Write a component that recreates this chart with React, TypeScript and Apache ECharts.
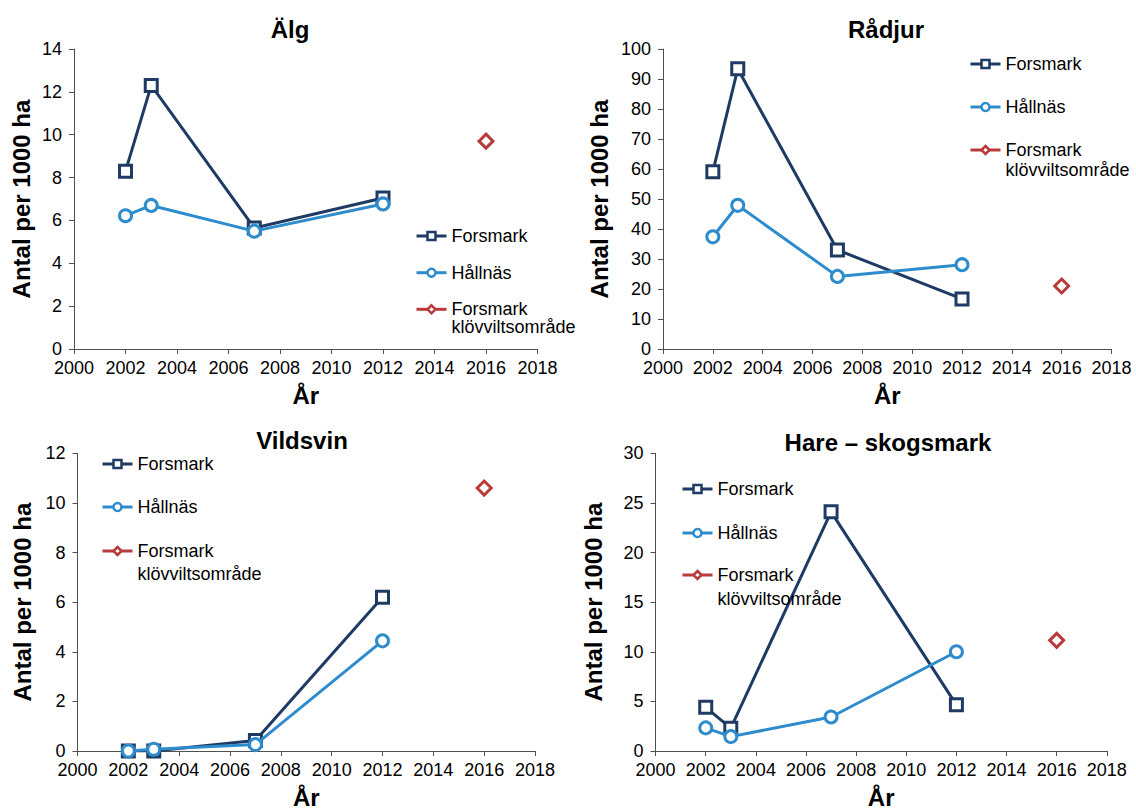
import React, { useEffect, useRef } from "react";
import * as echarts from "echarts";

const years = [2002, 2003, 2007, 2012];
const klovYear = 2016;

const algForsmark = [8.3, 12.3, 5.65, 7.05];
const algHallnas = [6.22, 6.7, 5.5, 6.77];
const algKlov = 9.7;

const radjurForsmark = [59.1, 93.4, 33, 16.7];
const radjurHallnas = [37.4, 47.9, 24.2, 28.1];
const radjurKlov = 21;

const vildsvinForsmark = [0, 0, 0.42, 6.2];
const vildsvinHallnas = [0, 0.07, 0.26, 4.44];
const vildsvinKlov = 10.6;

const hareForsmark = [4.4, 2.3, 24.1, 4.65];
const hareHallnas = [2.33, 1.45, 3.43, 10.0];
const hareKlov = 11.15;

const titles = ["Älg", "Rådjur", "Vildsvin", "Hare – skogsmark"];
const yMax = [14, 100, 12, 30];
const yStep = [2, 10, 2, 5];
const xTickMin = 2000;
const xTickMax = 2018;
const xTickStep = 2;

const NAME_F = "Forsmark";
const NAME_H = "Hållnäs";
const NAME_K = "Forsmark klövviltsområde";

const FONT = "'Liberation Sans', Arial, Helvetica, sans-serif";
const NAVY = "#1F3B64";
const BLUE = "#2E8BCC";
const RED = "#B83A3A";
const AXIS = "#505050";

const grids = [
  { left: 74, top: 49, width: 463.5, height: 300 },
  { left: 663, top: 49, width: 448.5, height: 300 },
  { left: 77.5, top: 453.3, width: 457.5, height: 300 },
  { left: 655.6, top: 453.3, width: 451.2, height: 300 },
];
const yNameGap = [41, 52, 43, 50];
const titlePos = [
  { x: 290, y: 17 },
  { x: 886, y: 17 },
  { x: 302, y: 428 },
  { x: 888, y: 430 },
];
const legendPos = [
  { x: 415, y1: 236, gap: 18.7, y3: 309.3, lh: 18 },
  { x: 969, y1: 64, gap: 25, y3: 150, lh: 20 },
  { x: 101, y1: 464, gap: 25, y3: 551, lh: 23 },
  { x: 681, y1: 489, gap: 26, y3: 575, lh: 24 },
];

const forsmarkSets = [algForsmark, radjurForsmark, vildsvinForsmark, hareForsmark];
const hallnasSets = [algHallnas, radjurHallnas, vildsvinHallnas, hareHallnas];
const klovSets = [algKlov, radjurKlov, vildsvinKlov, hareKlov];

export default function App() {
  const ref = useRef<HTMLDivElement>(null);
  useEffect(() => {
    if (!ref.current) return;
    const chart = echarts.init(ref.current, null, { renderer: "svg" });

    const xAxis: any[] = [];
    const yAxis: any[] = [];
    const series: any[] = [];
    const legend: any[] = [];
    const title: any[] = [];

    for (let i = 0; i < 4; i++) {
      xAxis.push({
        gridIndex: i,
        type: "value",
        min: xTickMin,
        max: xTickMax,
        interval: xTickStep,
        name: "År",
        nameLocation: "middle",
        nameGap: 34,
        nameTextStyle: { fontSize: 24, fontWeight: "bold", color: "#000", fontFamily: FONT },
        axisLine: { show: true, lineStyle: { color: AXIS, width: 1 } },
        axisTick: { show: true, inside: false, length: 5, lineStyle: { color: AXIS } },
        axisLabel: {
          fontSize: 18,
          color: "#000",
          fontFamily: FONT,
          margin: 10,
          formatter: (v: number) => String(v),
        },
        splitLine: { show: false },
      });
      yAxis.push({
        gridIndex: i,
        type: "value",
        min: 0,
        max: yMax[i],
        interval: yStep[i],
        name: "Antal per 1000 ha",
        nameLocation: "middle",
        nameRotate: 90,
        nameGap: yNameGap[i],
        nameTextStyle: { fontSize: 24, fontWeight: "bold", color: "#000", fontFamily: FONT },
        axisLine: { show: true, lineStyle: { color: AXIS, width: 1 } },
        axisTick: { show: true, inside: false, length: 5, lineStyle: { color: AXIS } },
        axisLabel: { fontSize: 18, color: "#000", fontFamily: FONT, margin: 12 },
        splitLine: { show: false },
      });
      series.push({
        name: NAME_F,
        type: "line",
        xAxisIndex: i,
        yAxisIndex: i,
        data: years.map((y, k) => [y, forsmarkSets[i][k]]),
        symbol: "rect",
        symbolSize: 12,
        showAllSymbol: true,
        lineStyle: { color: NAVY, width: 3 },
        itemStyle: { color: "#fff", borderColor: NAVY, borderWidth: 3 },
        z: 2,
      });
      series.push({
        name: NAME_H,
        type: "line",
        xAxisIndex: i,
        yAxisIndex: i,
        data: years.map((y, k) => [y, hallnasSets[i][k]]),
        symbol: "circle",
        symbolSize: 12,
        showAllSymbol: true,
        lineStyle: { color: BLUE, width: 3 },
        itemStyle: { color: "#fff", borderColor: BLUE, borderWidth: 3 },
        z: 3,
      });
      series.push({
        name: NAME_K,
        type: "line",
        xAxisIndex: i,
        yAxisIndex: i,
        data: [[klovYear, klovSets[i]]],
        symbol: "diamond",
        symbolSize: 14,
        lineStyle: { color: RED, width: 3 },
        itemStyle: { color: "#fff", borderColor: RED, borderWidth: 3 },
        z: 4,
      });

      const lp = legendPos[i];
      const textStyle = { fontSize: 18, color: "#000", fontFamily: FONT, lineHeight: 18 };
      const common = {
        orient: "vertical",
        left: lp.x,
        padding: 0,
        itemWidth: 30,
        itemHeight: 10,
        selectedMode: false,
        lineStyle: { width: 3 },
        itemStyle: { borderWidth: 2.5 },
      };
      legend.push({
        ...common,
        top: lp.y1 - 9,
        itemGap: lp.gap,
        data: [NAME_F, NAME_H],
        textStyle,
      });
      legend.push({
        ...common,
        top: lp.y3 - 1.5 * lp.lh,
        data: [NAME_K],
        formatter: () => "\nForsmark\nklövviltsområde",
        textStyle: { ...textStyle, lineHeight: lp.lh },
      });

      title.push({
        text: titles[i],
        left: titlePos[i].x,
        top: titlePos[i].y,
        textAlign: "center",
        padding: 0,
        textStyle: { fontSize: 24, fontWeight: "bold", color: "#000", fontFamily: FONT },
      });
    }

    chart.setOption({
      animation: false,
      backgroundColor: "#fff",
      textStyle: { fontFamily: FONT },
      title,
      grid: grids,
      xAxis,
      yAxis,
      legend,
      series,
    });
    return () => chart.dispose();
  }, []);

  return (
    <div
      ref={ref}
      style={{ position: "fixed", left: 0, top: 0, width: 1136, height: 810 }}
    />
  );
}
